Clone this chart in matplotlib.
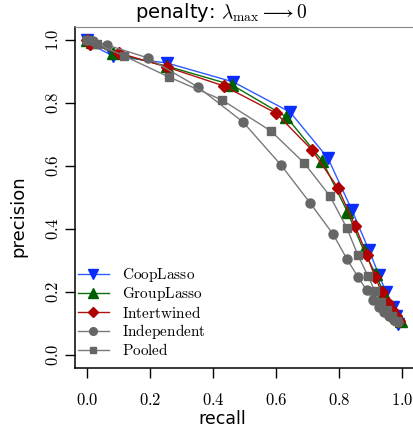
import matplotlib
matplotlib.use("Agg")
import matplotlib.pyplot as plt

plt.rcParams['mathtext.fontset'] = 'cm'

# Precision-recall curves for each method
coop_recall = [0.0, 0.009, 0.082, 0.253, 0.463, 0.644, 0.764, 0.840, 0.894, 0.926, 0.948, 0.970, 0.979, 0.986]
coop_precision = [1.0, 0.987, 0.949, 0.927, 0.867, 0.771, 0.625, 0.460, 0.333, 0.254, 0.200, 0.152, 0.124, 0.100]

group_recall = [0.0, 0.015, 0.082, 0.253, 0.460, 0.632, 0.746, 0.826, 0.877, 0.915, 0.940, 0.963, 0.978, 0.995]
group_precision = [1.0, 0.994, 0.959, 0.917, 0.857, 0.756, 0.616, 0.454, 0.333, 0.257, 0.200, 0.156, 0.127, 0.108]

inter_recall = [0.0, 0.010, 0.100, 0.253, 0.434, 0.599, 0.713, 0.796, 0.850, 0.888, 0.913, 0.935, 0.954, 0.967, 0.979, 0.991]
inter_precision = [1.0, 0.987, 0.959, 0.914, 0.854, 0.768, 0.651, 0.530, 0.410, 0.317, 0.248, 0.200, 0.165, 0.143, 0.124, 0.108]

indep_recall = [0.0, 0.018, 0.062, 0.193, 0.351, 0.494, 0.615, 0.707, 0.780, 0.824, 0.859, 0.887, 0.906, 0.925, 0.941, 0.957, 0.973, 0.986]
indep_precision = [1.0, 0.997, 0.984, 0.943, 0.851, 0.740, 0.603, 0.483, 0.384, 0.305, 0.248, 0.206, 0.175, 0.152, 0.137, 0.124, 0.111, 0.105]

pooled_recall = [0.0, 0.030, 0.118, 0.258, 0.427, 0.583, 0.688, 0.770, 0.824, 0.859, 0.891, 0.913, 0.932, 0.951, 0.967, 0.983]
pooled_precision = [1.0, 0.987, 0.949, 0.883, 0.810, 0.711, 0.610, 0.505, 0.403, 0.317, 0.251, 0.203, 0.168, 0.143, 0.124, 0.108]

method_names = ['CoopLasso', 'GroupLasso', 'Intertwined', 'Independent', 'Pooled']
tick_values = [0.0, 0.2, 0.4, 0.6, 0.8, 1.0]
tick_labels = ['0.0', '0.2', '0.4', '0.6', '0.8', '1.0']

W, H = 414, 426
fig = plt.figure(figsize=(W / 100, H / 100), dpi=100)
ax = fig.add_axes([74.7 / W, 1 - 367.6 / H, 340.2 / W, 340.2 / H])

series = [
    (coop_recall, coop_precision, dict(marker='v', color='#2f5cff', mfc='#0a2cff', mec='#0a2cff', ms=9)),
    (group_recall, group_precision, dict(marker='^', color='#0a6e0a', mfc='#006000', mec='#006000', ms=9)),
    (inter_recall, inter_precision, dict(marker='D', color='#b01010', mfc='#b00000', mec='#b00000', ms=6.5)),
    (indep_recall, indep_precision, dict(marker='o', color='#7a7a7a', mfc='#666666', mec='#666666', ms=6.5)),
    (pooled_recall, pooled_precision, dict(marker='s', color='#7a7a7a', mfc='#666666', mec='#666666', ms=5.8)),
]

handles = []
for (rx, py, style), name in zip(series, method_names):
    h, = ax.plot(rx, py, lw=1.0, label=r'$\mathrm{' + name + '}$', **style)
    handles.append(h)

ax.set_xlim(-0.04, 1.04)
ax.set_ylim(-0.04, 1.04)
ax.set_xticks(tick_values)
ax.set_yticks(tick_values)
ax.set_xticklabels(['$' + t + '$' for t in tick_labels], fontsize=12)
ax.set_yticklabels(['$' + t + '$' for t in tick_labels], fontsize=12, rotation=90, va='center')
ax.tick_params(axis='x', direction='out', length=7, width=1, pad=10)
ax.tick_params(axis='y', direction='out', length=7, width=1, pad=2.5)

ax.spines['right'].set_visible(False)
ax.spines['top'].set_color('#888888')
ax.spines['left'].set_linewidth(1.1)
ax.spines['bottom'].set_linewidth(1.1)

ax.legend(handles=handles, loc='lower left', bbox_to_anchor=(-0.008, 0.01),
          frameon=False, fontsize=11, handlelength=2.0, handletextpad=0.9,
          labelspacing=0.08, borderaxespad=0.0, markerscale=0.85)

fig.text(18 / W, 1 - 216 / H, 'precision', rotation=90, ha='center', va='center', fontsize=13)
fig.text(222 / W, 1 - 418.5 / H, 'recall', ha='center', va='center', fontsize=12.5)
fig.text(221 / W, 1 - 13 / H, r'penalty: $\lambda_{\mathrm{max}}\longrightarrow 0$',
         ha='center', va='center', fontsize=14)

fig.savefig('out.png', dpi=100)
